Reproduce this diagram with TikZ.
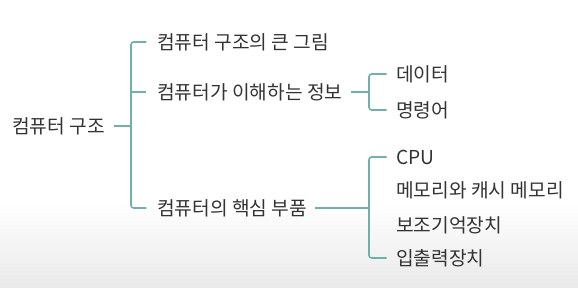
\documentclass[tikz,border=0pt]{standalone}
\usepackage{fontspec}
\setmainfont{Noto Sans CJK KR}
\usetikzlibrary{positioning, calc}
\definecolor{treeteal}{HTML}{6FB1A8}
\definecolor{treetext}{HTML}{333333}
\tikzset{
  item/.style={font=\fontsize{14.4}{17}\selectfont, text=treetext, anchor=west, inner sep=0pt},
  branch/.style={draw=treeteal, line width=1.2pt, rounded corners=2pt},
}

\begin{document}
\begin{tikzpicture}[x=0.75pt, y=-0.75pt]
    \useasboundingbox (0,0) rectangle (578,287);
    \shade[top color=white, bottom color=gray!17] (0,203) rectangle (578,287);

    \node[item] (root) at (12,126) {컴퓨터 구조};

    \node[item] (big) at (157,42) {컴퓨터 구조의 큰 그림};
    \node[item] (info) at (157,92) {컴퓨터가 이해하는 정보};
    \node[item] (parts) at (157,208) {컴퓨터의 핵심 부품};

    \node[item] (data) at (396,74) {데이터};
    \node[item] (inst) at (396,110) {명령어};

    \node[item] (cpu) at (396,157) {CPU};
    \node[item] (mem) at (396,190) {메모리와 캐시 메모리};
    \node[item] (aux) at (396,225) {보조기억장치};
    \node[item] (io) at (396,258) {입출력장치};

    \coordinate (j1) at (131,126);
    \coordinate (j2) at (369,92);
    \coordinate (j3) at (369,208);

    \draw[branch, shorten <=7pt] (root.east) -- (j1);
    \draw[branch, shorten <=8pt, shorten >=8pt] (big.west) -| (j1) |- (parts.west);
    \draw[branch, shorten <=8pt] (info.west) -- (info.west -| j1);

    \draw[branch, shorten <=6pt] (info.east) -- (j2);
    \draw[branch, shorten <=7pt, shorten >=7pt] (data.west) -| (j2) |- (inst.west);

    \draw[branch, shorten <=6pt] (parts.east) -- (j3);
    \draw[branch, shorten <=7pt, shorten >=7pt] (cpu.west) -| (j3) |- (io.west);
\end{tikzpicture}
\end{document}
